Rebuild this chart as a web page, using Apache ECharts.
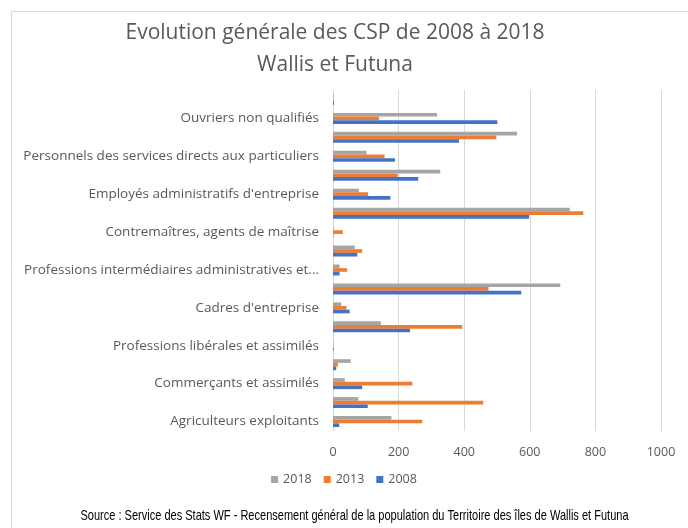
<!DOCTYPE html>
<html>
<head>
<meta charset="utf-8">
<script src="https://cdn.jsdelivr.net/npm/echarts@6/dist/echarts.min.js"></script>
<style>
  html, body { margin: 0; padding: 0; background: #fff; }
  #chart { width: 688px; height: 528px; }
</style>
</head>
<body>
<div id="chart"></div>
<script>
// Socio-professional categories (bottom to top on the axis)
const categories = [
  "Agriculteurs exploitants",
  "Artisans",
  "Commerçants et assimilés",
  "Chefs d'entreprise de 10 salariés ou plus",
  "Professions libérales et assimilés",
  "Cadres de la fonction publique, professions intellectuelles et artistiques",
  "Cadres d'entreprise",
  "Professions intermédiaires de l'enseignement, de la santé, de la fonction publique et assimilés",
  "Professions intermédiaires administratives et commerciales des entreprises",
  "Techniciens",
  "Contremaîtres, agents de maîtrise",
  "Employés de la fonction publique",
  "Employés administratifs d'entreprise",
  "Employés de commerce",
  "Personnels des services directs aux particuliers",
  "Ouvriers qualifiés",
  "Ouvriers non qualifiés",
  "Ouvriers agricoles"
];

const values2018 = [178, 77, 36, 54, 1, 146, 25, 693, 20, 66, 2, 722, 79, 327, 102, 561, 317, 2];
const values2013 = [272, 458, 242, 15, 1, 394, 41, 474, 43, 89, 30, 763, 107, 197, 157, 498, 140, 1];
const values2008 = [19, 106, 89, 10, 2, 235, 51, 574, 20, 74, 1, 598, 175, 260, 189, 384, 501, 3];

const valueTicks = [0, 200, 400, 600, 800, 1000];

const legendOrder = ["2018", "2013", "2008"];

const chart = echarts.init(document.getElementById('chart'), null, { renderer: 'canvas' });

const textGray = '#595959';
const baseFont = "'Open Sans', 'Noto Sans', sans-serif";

// Long category names are cut at a word boundary and end with "..."
function shortLabel(name) {
  if (name.length <= 50) return name;
  const cut = name.slice(0, 46);
  return cut.slice(0, cut.lastIndexOf(' ')) + '...';
}

chart.setOption({
  animation: false,
  backgroundColor: '#ffffff',
  title: {
    text: 'Evolution générale des CSP de 2008 à 2018\nWallis et Futuna',
    left: 330,
    textAlign: 'center',
    top: 12,
    textStyle: {
      fontFamily: baseFont,
      fontSize: 21,
      fontWeight: 'normal',
      color: textGray,
      lineHeight: 32
    }
  },
  legend: {
    data: legendOrder,
    left: 'center',
    top: 468,
    icon: 'rect',
    itemWidth: 7,
    itemHeight: 7,
    itemGap: 12,
    textStyle: {
      fontFamily: baseFont,
      fontSize: 12.5,
      color: textGray
    }
  },
  grid: {
    left: 333,
    right: 27,
    top: 90,
    height: 341,
    containLabel: false
  },
  xAxis: {
    type: 'value',
    min: valueTicks[0],
    max: valueTicks[valueTicks.length - 1],
    interval: valueTicks[1] - valueTicks[0],
    axisLine: { show: false },
    axisTick: { show: false },
    axisLabel: {
      margin: 15,
      fontFamily: baseFont,
      fontSize: 12.5,
      color: textGray,
      formatter: (v) => String(v)
    },
    splitLine: { show: true, lineStyle: { color: '#d9d9d9', width: 1 } }
  },
  yAxis: {
    type: 'category',
    data: categories,
    axisLine: { show: false },
    axisTick: { show: false },
    axisLabel: {
      interval: 1,
      margin: 14,
      fontFamily: baseFont,
      fontSize: 13.5,
      color: textGray,
      formatter: shortLabel
    }
  },
  series: [
    {
      name: '2018',
      type: 'bar',
      data: values2018,
      itemStyle: { color: '#a5a5a5' },
      barGap: '0%',
      barCategoryGap: '42%'
    },
    {
      name: '2013',
      type: 'bar',
      data: values2013,
      itemStyle: { color: '#ed7d31' },
      barGap: '0%',
      barCategoryGap: '42%'
    },
    {
      name: '2008',
      type: 'bar',
      data: values2008,
      itemStyle: { color: '#4472c4' },
      barGap: '0%',
      barCategoryGap: '42%'
    }
  ],
  graphic: [
    {
      type: 'rect',
      shape: { x: 11.5, y: 11.5, width: 800, height: 700 },
      style: { fill: 'none', stroke: '#d9d9d9', lineWidth: 1 },
      silent: true
    },
    {
      type: 'text',
      x: 354.5,
      y: 516,
      scaleX: 0.735,
      originX: 0,
      style: {
        text: 'Source : Service des Stats WF - Recensement général de la population du Territoire des îles de Wallis et Futuna',
        fontFamily: "'Liberation Sans', Arial, sans-serif",
        fontSize: 15,
        fill: '#000000',
        align: 'center',
        verticalAlign: 'middle'
      },
      silent: true
    }
  ]
});
</script>
</body>
</html>
